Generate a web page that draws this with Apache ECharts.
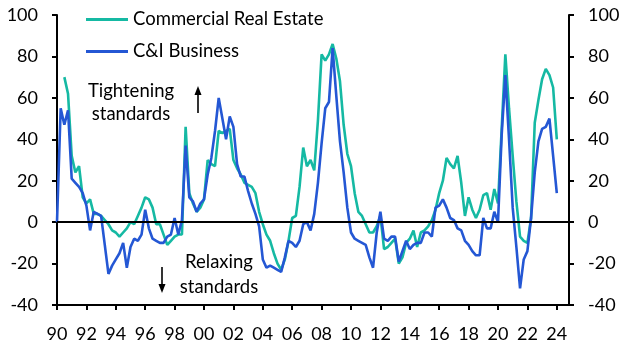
<!DOCTYPE html>
<html><head><meta charset="utf-8">
<script src="https://cdn.jsdelivr.net/npm/echarts@6/dist/echarts.min.js"></script>
<style>html,body{margin:0;padding:0;background:#fff}#c{width:632px;height:356px}</style>
</head><body><div id="c"></div>
<script>
// Quarterly data, first value = 1990 Q1
const firstYear = 1990;
const seriesNames = ['Commercial Real Estate', 'C&I Business'];
const creValues = [
  null, null, 70, 62, 32, 24, 27, 12, 9, 11,
  4, 4, 3, 1, -1, -4, -5, -7, -5, -3,
  0, -1, 3, 7, 12, 11, 7, -1, -1, -6,
  -11, -9, -7, -6, -6, 46, 14, 9, 5, 7,
  11, 30, 28, 27, 44, 43, 44, 45, 30, 26,
  23, 19, 18, 17, 14, 5, -1, -6, -9, -15,
  -20, -23, -18, -9, 2, 3, 17, 36, 27, 30,
  25, 49, 81, 78, 81, 86, 79, 68, 47, 33,
  27, 14, 5, 3, -1, -5, -5, -2, 3, -13,
  -12, -10, -8, -20, -17, -10, -8, -4, -12, -5,
  -4, -2, 1, 6, 14, 20, 31, 28, 26, 32,
  19, 3, 12, 6, 2, 6, 13, 14, 6, 16,
  9, 45, 81, 55, 32, 10, -7, -9, -10, 2,
  48, 59, 69, 74, 71, 65, 40
];
const ciValues = [
  0, 55, 47, 54, 21, 19, 17, 14, 8, -4,
  5, 4, 3, -11, -25, -21, -18, -15, -10, -22,
  -12, -8, -9, -6, 6, -3, -8, -9, -10, -10,
  -7, -6, 2, -6, 1, 37, 12, 10, 5, 9,
  11, 23, 31, 44, 60, 50, 40, 51, 46, 28,
  22, 22, 15, 9, 4, -2, -18, -22, -21, -22,
  -23, -24, -17, -9, -10, -12, -9, -1, 0, -4,
  4, 19, 38, 55, 58, 84, 61, 39, 24, 7,
  -5, -8, -9, -10, -11, -17, -22, -5, 5, -8,
  -9, -7, -7, -19, -14, -9, -13, -11, -10, -10,
  -5, -5, -7, 7, 8, 11, 7, 2, 1, -3,
  -4, -9, -11, -14, -16, -16, 2, -3, -3, 5,
  0, 42, 71, 40, 7, -12, -32, -18, -14, 2,
  24, 39, 45, 46, 50, 32, 14
];
const xTickYears = [1990,1992,1994,1996,1998,2000,2002,2004,2006,2008,2010,2012,2014,2016,2018,2020,2022,2024];
const yMin = -40, yMax = 100, yStep = 20;

const toPairs = arr => arr.map((v, i) => [firstYear + i / 4, v]);
const FONT = 'Lato';
const TXT = '#000';

const yAxisBase = {
  type: 'value', min: yMin, max: yMax, interval: yStep,
  axisLine: { show: true, lineStyle: { color: '#000', width: 2 } },
  axisTick: { show: true, length: 5, lineStyle: { color: '#000', width: 2 } },
  axisLabel: { color: TXT, fontSize: 18, fontFamily: FONT, margin: 19 },
  splitLine: { show: false }
};

const chart = echarts.init(document.getElementById('c'), null, { renderer: 'canvas' });
chart.setOption({
  animation: false,
  backgroundColor: '#fff',
  grid: { left: 57, right: 63, top: 15, bottom: 51, containLabel: false, outerBoundsMode: 'none' },
  legend: {
    data: seriesNames,
    orient: 'vertical', left: 81, top: 5,
    itemWidth: 42, itemHeight: 3, itemGap: 13, icon: 'rect',
    textStyle: { color: TXT, fontSize: 18.5, fontFamily: FONT }
  },
  xAxis: {
    type: 'value', min: 1990, max: 2024.83,
    axisLine: { onZero: false, lineStyle: { color: '#000', width: 2 } },
    axisTick: { show: true, length: 5, customValues: xTickYears, lineStyle: { color: '#000', width: 2 } },
    axisLabel: { customValues: xTickYears, color: TXT, fontSize: 18, fontFamily: FONT, margin: 20,
      formatter: v => String(Math.round(v)).slice(2) },
    splitLine: { show: false }
  },
  yAxis: [
    Object.assign({}, yAxisBase, { position: 'left' }),
    Object.assign({}, yAxisBase, { position: 'right' })
  ],
  series: [
    {
      name: seriesNames[0], type: 'line', data: toPairs(creValues),
      showSymbol: false, symbol: 'none', connectNulls: false,
      lineStyle: { color: '#15B9A3', width: 2.6 }, itemStyle: { color: '#15B9A3' },
      markLine: {
        silent: true, symbol: ['none', 'none'], label: { show: false },
        lineStyle: { color: '#000', width: 2, type: 'solid' },
        data: [{ yAxis: 0 }]
      }
    },
    {
      name: seriesNames[1], type: 'line', data: toPairs(ciValues),
      showSymbol: false, symbol: 'none',
      lineStyle: { color: '#2457D4', width: 2.6 }, itemStyle: { color: '#2457D4' }
    }
  ],
  graphic: [
    { type: 'text', x: 131, y: 79.5,
      style: { text: 'Tightening\nstandards', textAlign: 'center', textVerticalAlign: 'top',
        fontSize: 18.5, fontFamily: FONT, lineHeight: 23, fill: TXT } },
    { type: 'text', x: 219, y: 250,
      style: { text: 'Relaxing\nstandards', textAlign: 'center', textVerticalAlign: 'top',
        fontSize: 18.5, fontFamily: FONT, lineHeight: 25, fill: TXT } },
    { type: 'line', shape: { x1: 198, y1: 113, x2: 198, y2: 94 }, style: { stroke: '#000', lineWidth: 1.6 } },
    { type: 'polygon', shape: { points: [[198, 86], [194.5, 95], [201.5, 95]] }, style: { fill: '#000' } },
    { type: 'line', shape: { x1: 162, y1: 267, x2: 162, y2: 285 }, style: { stroke: '#000', lineWidth: 1.6 } },
    { type: 'polygon', shape: { points: [[162, 293], [158.5, 284], [165.5, 284]] }, style: { fill: '#000' } }
  ]
});
</script>
</body></html>
